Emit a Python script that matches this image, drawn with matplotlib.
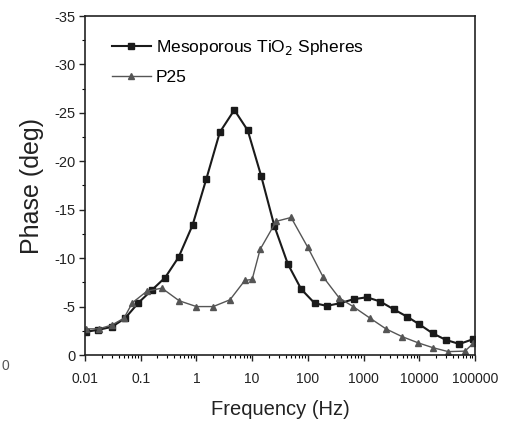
import matplotlib
matplotlib.use("Agg")
import matplotlib.pyplot as plt
from matplotlib.ticker import MultipleLocator, LogLocator, FixedLocator, NullFormatter

plt.rcParams['font.family'] = ['Liberation Sans', 'DejaVu Sans']

# Mesoporous TiO2 spheres
freq_meso = [0.0105, 0.0174, 0.0302, 0.0525, 0.0912, 0.158, 0.275, 0.479, 0.851, 1.51,
             2.63, 4.79, 8.32, 14.5, 25.1, 43.7, 75.9, 132, 219, 380,
             661, 1148, 1995, 3467, 6026, 10000, 17378, 30200, 52481, 91201]
phase_meso = [-2.4, -2.6, -2.9, -3.8, -5.4, -6.7, -8.0, -10.1, -13.4, -18.2,
              -23.0, -25.3, -23.2, -18.5, -13.3, -9.4, -6.8, -5.35, -5.07, -5.35,
              -5.76, -5.96, -5.52, -4.72, -3.96, -3.17, -2.24, -1.55, -1.14, -1.62]

# P25
freq_p25 = [0.0105, 0.0178, 0.0305, 0.050, 0.071, 0.13, 0.24, 0.49, 1.0, 2.0,
            4.0, 7.4, 10, 13.9, 27, 50, 100, 186, 364, 650,
            1310, 2520, 4900, 9600, 17700, 33000, 66000, 93000]
phase_p25 = [-2.7, -2.7, -3.1, -3.8, -5.4, -6.6, -6.9, -5.6, -5.0, -5.0,
             -5.7, -7.7, -7.8, -10.9, -13.8, -14.2, -11.1, -8.1, -5.9, -5.0,
             -3.8, -2.7, -1.9, -1.25, -0.75, -0.35, -0.4, -1.2]

fig = plt.figure(figsize=(5.05, 4.23), dpi=100)
ax = fig.add_axes([85/505, 1-355/423, 390/505, 339/423])

ax.plot(freq_meso, phase_meso, '-s', color='#1a1a1a', lw=1.5, ms=4.2,
        label='Mesoporous TiO$_2$ Spheres')
ax.plot(freq_p25, phase_p25, '-^', color='#555555', lw=1.0, ms=4.2,
        label='P25')

ax.set_xscale('log')
ax.set_xlim(0.01, 100000)
ax.set_ylim(0, -35)

ax.xaxis.set_major_locator(FixedLocator([0.01, 0.1, 1, 10, 100, 1000, 10000, 100000]))
ax.set_xticklabels(['0.01', '0.1', '1', '10', '100', '1000', '10000', '100000'])
ax.xaxis.set_minor_locator(LogLocator(base=10, subs=range(2, 10), numticks=20))
ax.xaxis.set_minor_formatter(NullFormatter())
ax.set_yticks([0, -5, -10, -15, -20, -25, -30, -35])
ax.set_yticklabels(['0', '-5', '-10', '-15', '-20', '-25', '-30', '-35'])
ax.yaxis.set_minor_locator(MultipleLocator(2.5))

ax.tick_params(axis='x', which='major', direction='out', length=4, width=1,
               labelsize=10, colors='#222222', pad=8, top=False)
ax.tick_params(axis='y', which='major', direction='out', length=4, width=1,
               labelsize=10.5, colors='#222222', pad=3, right=False)
ax.tick_params(axis='both', which='minor', direction='out', length=2, width=0.8,
               top=False, right=False)
for s in ax.spines.values():
    s.set_linewidth(1.2)
    s.set_color('#222222')

ax.set_xlabel('Frequency (Hz)', fontsize=14.5, color='#222222', labelpad=10)
ax.set_ylabel('Phase (deg)', fontsize=18, color='#222222', labelpad=7)

leg = ax.legend(loc='upper left', bbox_to_anchor=(0.03, 0.98), frameon=False,
                fontsize=12.5, handlelength=2.2, handletextpad=0.3, labelspacing=0.7)

fig.text(1/505, 1-366/423, '0', fontsize=10, color='#555555', ha='left', va='center')

fig.savefig('out.png', dpi=100, facecolor='white')
